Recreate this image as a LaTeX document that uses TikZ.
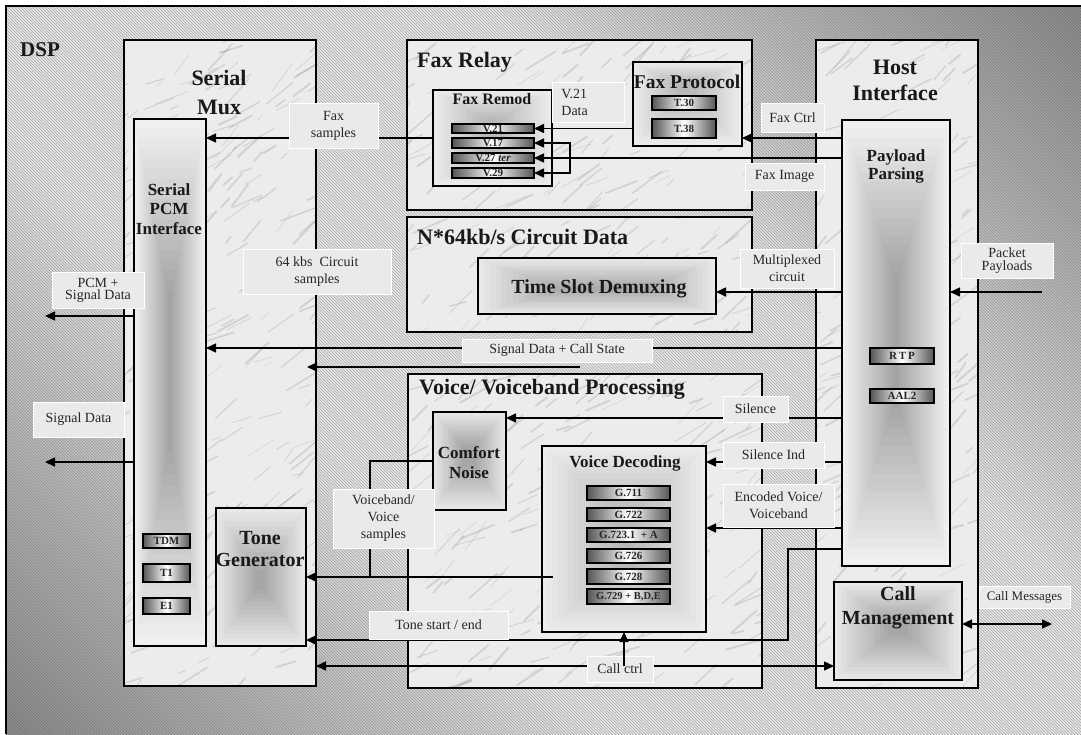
\documentclass[tikz,border=0pt]{standalone}
\usepackage{fontspec}
\setmainfont{Liberation Serif}
\usetikzlibrary{arrows.meta,patterns,calc}
\definecolor{bgdark}{HTML}{545454}
\definecolor{bglight}{HTML}{E6E6E6}
\definecolor{marblebg}{HTML}{ECECEC}
\definecolor{vein}{HTML}{A0A0A0}
\definecolor{lblgray}{HTML}{EAEAEA}
\definecolor{bardark}{HTML}{555555}
\pgfdeclarehorizontalshading{bgsh}{100bp}{color(0bp)=(bgdark); color(38bp)=(bglight); color(62bp)=(bglight); color(100bp)=(bgdark)}

% nested rectangle gradient: outer x1 y1 x2 y2, inner x1 y1 x2 y2, steps; colours go (outer) gi (inner)
\newcommand{\ngrad}[9]{%
  \foreach \k in {0,...,#9}{%
    \pgfmathsetmacro\ff{\k/#9}%
    \pgfmathtruncatemacro\pc{100*\k/#9}%
    \fill[gi!\pc!go] ({#1+(#5-#1)*\ff},{#2+(#6-#2)*\ff}) rectangle ({#3+(#7-#3)*\ff},{#4+(#8-#4)*\ff});
  }}
% marble fill
\newcommand{\marble}[4]{%
  \begin{scope}
  \clip (#1,#2) rectangle (#3,#4);
  \fill[marblebg] (#1,#2) rectangle (#3,#4);
  \pgfmathtruncatemacro\nv{(#3-#1)/22*(#4-#2)/22}%
  \foreach \i in {1,...,\nv}{%
    \pgfmathsetmacro\vx{#1-20+rnd*(#3-#1+20)}%
    \pgfmathsetmacro\vy{#2+rnd*(#4-#2+20)}%
    \pgfmathsetmacro\vl{8+rnd*30}%
    \pgfmathsetmacro\va{15+rnd*40}%
    \pgfmathsetmacro\vw{0.4+rnd*1.6}%
    \draw[vein, line width=\vw, opacity=0.35, line cap=round] (\vx,\vy) -- ++({\vl*cos(\va)},{-\vl*sin(\va)});
  }%
  \end{scope}}
% rectangle node from corners
\newcommand{\rbox}[6][]{\node[#1, minimum width={#4-#2}, minimum height={#5-#3}, inner sep=0pt, outer sep=0pt, anchor=north west] (#6) at (#2,#3) {};}
% label node from corners
\newcommand{\lbox}[7][]{\node[lbl,#1,minimum width={#5-#3},minimum height={#6-#4}] (#2) at ({(#3+#5)/2},{(#4+#6)/2}) {#7};}

\begin{document}
\begin{tikzpicture}[x=1pt,y=-1pt,
  box/.style={draw=black, line width=1.6pt},
  bar/.style={draw=black, line width=1.3pt, left color=bardark, right color=bardark, middle color=white},
  bartxt/.style={font=\bfseries\fontsize{11}{11}\selectfont, inner sep=0pt, text=black!85},
  lbl/.style={fill=lblgray, draw=white, line width=0.8pt, font=\fontsize{14}{17}\selectfont, align=center, inner sep=0pt, text=black!85},
  tbig/.style={font=\bfseries\fontsize{22}{28}\selectfont, align=center, inner sep=0pt, text=black!90},
  tmed/.style={font=\bfseries\fontsize{17}{20}\selectfont, align=center, inner sep=0pt, text=black!90},
  con/.style={line width=1.5pt},
  arr/.style={con, -{Triangle[length=10pt,width=9pt]}},
  darr/.style={con, {Triangle[length=10pt,width=9pt]}-{Triangle[length=10pt,width=9pt]}}]
\pgfmathsetseed{7}
\useasboundingbox (0,0) rectangle (1081,734);
% background
\fill[white] (0,0) rectangle (1081,734);
\shade[shading=bgsh, shading angle=45] (6,6) rectangle (1081,734);
\fill[pattern=north west lines, pattern color=black!70, opacity=0.4] (6,6) rectangle (1081,734);
\draw[line width=1.2pt] (6,734) -- (6,6) -- (1081,6);
\node[font=\bfseries\fontsize{21}{24}\selectfont, anchor=west, inner sep=0pt, text=black!90] (dsp) at (20,50) {DSP};

% marble blocks
\marble{124}{40}{316}{686}
\marble{407}{40}{752}{210}
\marble{407}{217}{752}{332}
\marble{408}{374}{762}{688}
\marble{816}{40}{978}{688}
\rbox[box]{124}{40}{316}{686}{smux}
\rbox[box]{407}{40}{752}{210}{faxr}
\rbox[box]{407}{217}{752}{332}{ckt}
\rbox[box]{408}{374}{762}{688}{voice}
\rbox[box]{816}{40}{978}{688}{host}

% inner gradient boxes
\colorlet{go}{gray!12}\colorlet{gi}{gray!75}
\ngrad{134}{119}{206}{646}{170}{300}{170}{440}{18}
\rbox[box]{134}{119}{206}{646}{pcm}
\ngrad{842}{120}{950}{566}{896}{280}{896}{400}{18}
\rbox[box]{842}{120}{950}{566}{pay}
\colorlet{go}{gray!18}\colorlet{gi}{gray!70}
\ngrad{478}{258}{716}{314}{560}{289}{650}{289}{14}
\rbox[box]{478}{258}{716}{314}{tsd}
\ngrad{433}{412}{506}{510}{462}{445}{476}{468}{14}
\rbox[box]{433}{412}{506}{510}{cn}
\ngrad{216}{508}{306}{646}{255}{570}{265}{590}{14}
\rbox[box]{216}{508}{306}{646}{tg}
\ngrad{834}{582}{962}{680}{888}{620}{908}{636}{14}
\rbox[box]{834}{582}{962}{680}{cm}
\colorlet{go}{gray!15}\colorlet{gi}{gray!55}
\ngrad{433}{90}{552}{186}{482}{118}{502}{150}{14}
\rbox[box]{433}{90}{552}{186}{frm}
\ngrad{633}{62}{742}{146}{676}{82}{696}{100}{14}
\rbox[box]{633}{62}{742}{146}{fp}
\ngrad{542}{446}{706}{632}{615}{510}{635}{570}{14}
\rbox[box]{542}{446}{706}{632}{vd}

% bars
\rbox[bar]{452}{124}{534}{133}{v21}
\rbox[bar]{452}{138}{534}{148}{v17}
\rbox[bar]{452}{153}{534}{163}{v27}
\rbox[bar]{452}{168}{534}{178}{v29}
\node[bartxt] at (v21.center) {V.21};
\node[bartxt] at (v17.center) {V.17};
\node[bartxt] at (v27.center) {V.27 \textit{ter}};
\node[bartxt] at (v29.center) {V.29};
\rbox[bar]{652}{96}{716}{110}{t30}
\rbox[bar]{652}{119}{716}{138}{t38}
\node[bartxt] at (t30.center) {T.30};
\node[bartxt] at (t38.center) {T.38};
\rbox[bar]{587}{486}{670}{500}{g711}
\rbox[bar]{587}{508}{670}{521}{g722}
\rbox[bar]{587}{528}{670}{542}{g723}
\rbox[bar]{587}{549}{670}{563}{g726}
\rbox[bar]{587}{569}{670}{584}{g728}
\rbox[bar]{587}{589}{670}{604}{g729}
\node[bartxt] at (g711.center) {G.711};
\node[bartxt] at (g722.center) {G.722};
\node[bartxt] at (g723.center) {G.723.1\ \ + A};
\node[bartxt] at (g726.center) {G.726};
\node[bartxt] at (g728.center) {G.728};
\node[bartxt, font=\bfseries\fontsize{10.5}{11}\selectfont] at (g729.center) {G.729 + B,D,E};
\rbox[bar]{143}{534}{190}{548}{tdm}
\rbox[bar]{143}{564}{190}{582}{tone1}
\rbox[bar]{143}{598}{190}{614}{ee1}
\node[bartxt] at (tdm.center) {TDM};
\node[bartxt] at (tone1.center) {T1};
\node[bartxt] at (ee1.center) {E1};
\rbox[bar]{870}{348}{934}{364}{rtp}
\rbox[bar]{870}{389}{934}{403}{aal}
\node[bartxt] at (rtp.center) {R\,T\,P};
\node[bartxt] at (aal.center) {AAL2};

% titles
\node[tbig, font=\bfseries\fontsize{22}{29}\selectfont] (tsm) at (219,92) {Serial\\Mux};
\node[tbig, font=\bfseries\fontsize{22}{26}\selectfont] (thi) at (895,80) {Host\\Interface};
\node[tbig, anchor=west] (tfr) at (417,62) {Fax Relay};
\node[tbig, anchor=west] (tck) at (417,237) {N*64kb/s Circuit Data};
\node[tbig, anchor=west] (tvo) at (419,389) {Voice/ Voiceband Processing};
\node[tmed, font=\bfseries\fontsize{17}{19.5}\selectfont] (tpcm) at (169,209) {Serial\\PCM\\Interface};
\node[tmed, font=\bfseries\fontsize{17}{18}\selectfont] (tpay) at (896,166) {Payload\\Parsing};
\node[tmed, font=\bfseries\fontsize{16}{18}\selectfont] (tfrm) at (492,99) {Fax Remod};
\node[tmed, font=\bfseries\fontsize{19.5}{20}\selectfont] (tfp) at (687,82) {Fax Protocol};
\node[tmed, font=\bfseries\fontsize{20}{20}\selectfont] (ttsd) at (599,289) {Time Slot Demuxing};
\node[tmed] (tcn) at (469,463) {Comfort\\Noise};
\node[tmed] (tvd) at (625,463) {Voice Decoding};
\node[tmed, font=\bfseries\fontsize{20}{22}\selectfont] (ttg) at (260,549) {Tone\\Generator};
\node[tmed, font=\bfseries\fontsize{20}{24}\selectfont] (tcm) at (898,608) {Call\\Management};

% connectors
\coordinate (yfc) at (0,138);
\coordinate (jf) at (570,0);
\coordinate (ymx) at (0,292);
\coordinate (pp) at (1042,292);
\coordinate (ysd) at (0,348);
\coordinate (c64) at (580,367);
\coordinate (c64e) at (307,367);
\coordinate (pcmo) at (45,316);
\coordinate (sdo) at (45,462);
\coordinate (ysil) at (0,418);
\coordinate (ysi) at (0,462);
\coordinate (yev) at (0,528);
\coordinate (jt) at (370,577);
\coordinate (vdo) at (553,577);
\coordinate (ts1) at (788,549);
\coordinate (ts2) at (788,640);
\coordinate (ycc) at (0,666);
\coordinate (ccj) at (624,666);
\coordinate (cmo) at (1052,624);

\draw[arr] (frm.west) -- (frm.west -| pcm.east);
\draw[arr] (fp.west |- v21.east) -- (v21.east);
\draw[arr] (pay.west |- yfc) -- (fp.east |- yfc);
\draw[arr] (pay.west |- v27.east) -- (v27.east);
\draw[arr] (jf |- v27.east) |- (v17.east);
\draw[arr] (jf |- v27.east) |- (v29.east);
\draw[arr] (pay.west |- ymx) -- (tsd.east |- ymx);
\draw[arr] (pp) -- (pp -| pay.east);
\draw[arr] (pay.west |- ysd) -- (pcm.east |- ysd);
\draw[arr] (c64) -- (c64e);
\draw[arr] (pcm.west |- pcmo) -- (pcmo);
\draw[arr] (pcm.west |- sdo) -- (sdo);
\draw[arr] (pay.west |- ysil) -- (cn.east |- ysil);
\draw[arr] (pay.west |- ysi) -- (vd.east |- ysi);
\draw[arr] (pay.west |- yev) -- (vd.east |- yev);
\draw[con] (cn.west) -| (jt);
\draw[arr] (vdo) -- (tg.east |- vdo);
\draw[arr] (pay.west |- ts1) -- (ts1) -- (ts2) -- (tg.east |- ts2);
\draw[darr] (smux.east |- ycc) -- (cm.west |- ycc);
\draw[darr] (cm.east |- cmo) -- (cmo);

% labels
\lbox{lfs}{289}{103}{378}{148}{Fax\\samples}
\lbox{lv21}{552}{82}{624}{122}{}
\node[lbl, fill=none, draw=none, anchor=west, align=left] (tv21) at (561,102) {V.21\\Data};
\lbox{lfc}{761}{103}{824}{132}{Fax Ctrl}
\lbox{lfi}{745}{163}{824}{190}{Fax Image}
\lbox{l64}{243}{249}{391}{294}{64 kbs\ \ Circuit\\samples}
\lbox[font=\fontsize{14}{12}\selectfont]{lpcm}{52}{272}{144}{308}{PCM +\\Signal Data}
\lbox{lmx}{740}{249}{834}{288}{Multiplexed\\circuit}
\lbox[font=\fontsize{14}{13}\selectfont]{lpp}{961}{243}{1053}{278}{Packet\\Payloads}
\lbox{lsd}{462}{339}{652}{362}{Signal Data + Call State}
\lbox{lsig}{33}{402}{124}{437}{Signal Data}
\lbox{lsil}{723}{396}{788}{422}{Silence}
\lbox{lsi}{723}{442}{824}{468}{Silence Ind}
\lbox{lev}{723}{484}{834}{527}{Encoded Voice/\\Voiceband}
\lbox{lvb}{333}{489}{434}{548}{Voiceband/\\Voice\\samples}
\lbox{lts}{369}{611}{508}{639}{Tone start / end}
\lbox{lcc}{587}{656}{653}{682}{Call ctrl}
\lbox[font=\fontsize{13}{15}\selectfont]{lcm}{979}{586}{1070}{608}{Call Messages}
\draw[arr] (ccj) -- (ccj |- vd.south);
\end{tikzpicture}
\end{document}
